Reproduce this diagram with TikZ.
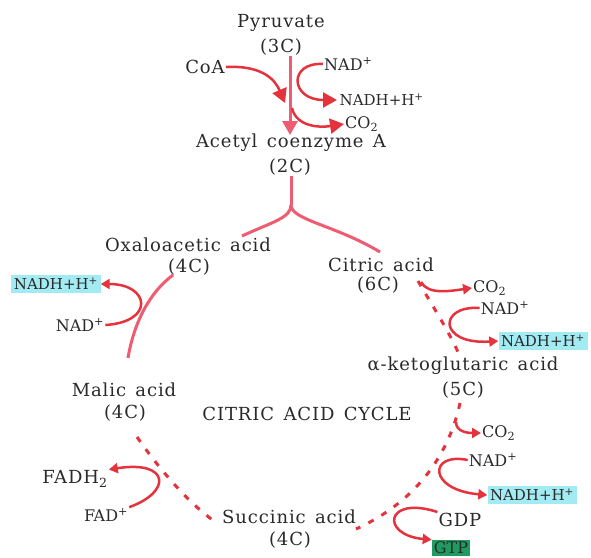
\documentclass[tikz,border=0pt]{standalone}
\usepackage{fontspec}
\setmainfont{DejaVu Serif}
\newfontfamily\namefont[LetterSpace=5,WordSpace=1.4]{DejaVu Serif}
\usepackage{tikz}
\usetikzlibrary{arrows.meta,positioning}

\definecolor{cyclepink}{HTML}{EE5C72}
\definecolor{sidered}{HTML}{E5333D}
\definecolor{nadhblue}{HTML}{A3EBF3}
\definecolor{gtpgreen}{HTML}{1F9A60}
\definecolor{txt}{HTML}{2A2A2A}

\tikzset{
  lbl/.style={font=\fontsize{16}{18}\selectfont, text=txt, inner sep=1pt},
  acid/.style={font=\namefont\fontsize{18}{20}\selectfont, text=txt, inner sep=1pt},
  nadh/.style={font=\fontsize{15}{17}\selectfont, text=txt, fill=nadhblue, inner sep=2.5pt},
  gtp/.style={lbl, fill=gtpgreen, inner sep=2pt},
  cycline/.style={draw=cyclepink, line width=3pt},
  bigtip/.style={-{Triangle[length=14pt,width=15pt]}},
  sidearrow/.style={draw=sidered, line width=2.5pt, -{Triangle[length=9pt,width=10pt]}},
  dashline/.style={draw=sidered, line width=3pt, dash pattern=on 6pt off 9pt}
}

\begin{document}
\begin{tikzpicture}[x=1pt,y=-1pt]
      \useasboundingbox (0,0) rectangle (591,557);

      % top: pyruvate to acetyl CoA
      \node[acid] (pyr) at (281,23) {Pyruvate};
      \node[acid] (pyrc) at (281,47) {(3C)};
      \node[acid] (coa) at (205,67) {CoA};
      \node[lbl,anchor=west] (nad1) at (323,64) {NAD\textsuperscript{+}};
      \node[nadh,fill=none,anchor=west] (nadh1) at (337,100) {NADH+H\textsuperscript{+}};
      \node[lbl,anchor=west] (co21) at (344,124) {CO\textsubscript{2}};
      \node[acid] (acet) at (291,143) {Acetyl coenzyme A};
      \node[acid] (acetc) at (290,167) {(2C)};

      \draw[cycline,bigtip] (pyrc.south -| 290,0) -- (290,135);
      \draw[sidearrow,bigtip] (coa.east) .. controls (265,65) and (276,82) .. (285,103);
      \draw[sidearrow,bigtip] (nad1.west) .. controls (288,62) and (290,100) .. (nadh1.west);
      \draw[sidearrow,bigtip] (292,108) .. controls (296,126) and (318,128) .. (co21.west);

      % the cycle
      \node[acid] (oxa) at (188,245) {Oxaloacetic acid};
      \node[acid] (oxac) at (189,267) {(4C)};
      \node[acid] (cit) at (381,265) {Citric acid};
      \node[acid] (citc) at (378,285) {(6C)};
      \node[acid] (akg) at (463,366) {α-ketoglutaric acid};
      \node[acid] (akgc) at (463,390) {(5C)};
      \node[acid] (suc) at (289,517) {Succinic acid};
      \node[acid] (succ) at (290,540) {(4C)};
      \node[acid] (mal) at (124,390) {Malic acid};
      \node[acid] (malc) at (125,413) {(4C)};
      \node[acid] (tca) at (307,414) {CITRIC ACID CYCLE};

      \coordinate (fork) at (291,205);
      \draw[cycline] (acetc.south -| fork) -- (fork);
      \draw[cycline] (fork) .. controls (291,218) and (272,222) .. (242,236);
      \draw[cycline] (fork) .. controls (291,220) and (335,225) .. (380,252);
      \draw[cycline] (128,358) .. controls (134,322) and (150,292) .. (173,275);
      \draw[dashline] (418,281) .. controls (432,305) and (448,330) .. (458,352);
      \draw[dashline] (460,403) .. controls (450,450) and (420,500) .. (356,529);
      \draw[dashline] (137,437) .. controls (160,470) and (190,505) .. (217,523);

      % side reactions
      \node[nadh] (nadhl) at (56,284) {NADH+H\textsuperscript{+}};
      \node[lbl] (nadl) at (80,325) {NAD\textsuperscript{+}};
      \draw[sidearrow] (nadl.east) .. controls (155,322) and (150,284) .. (nadhl.east);

      \node[lbl,anchor=west] (co22) at (472,288) {CO\textsubscript{2}};
      \node[lbl] (nad2) at (505,308) {NAD\textsuperscript{+}};
      \node[nadh] (nadh2) at (543,341) {NADH+H\textsuperscript{+}};
      \draw[sidearrow] (421,282) .. controls (428,295) and (450,291) .. (co22.west);
      \draw[sidearrow] (nad2.west) .. controls (438,305) and (438,345) .. (nadh2.west);

      \node[lbl,anchor=west] (co23) at (481,433) {CO\textsubscript{2}};
      \node[lbl] (nad3) at (493,460) {NAD\textsuperscript{+}};
      \node[nadh] (nadh3) at (532,495) {NADH+H\textsuperscript{+}};
      \node[acid] (gdp) at (460,520) {GDP};
      \node[gtp] (gtpn) at (451,548) {GTP};
      \draw[sidearrow] (456,422) .. controls (456,432) and (468,433) .. (co23.west);
      \draw[sidearrow] (nad3.west) .. controls (428,452) and (428,490) .. (nadh3.west);
      \draw[sidearrow] (gdp.north west) .. controls (385,495) and (380,535) .. (gtpn.north west);

      \node[acid] (fadh) at (75,479) {FADH\textsubscript{2}};
      \node[lbl] (fad) at (106,515) {FAD\textsuperscript{+}};
      \draw[sidearrow] (fad.north east) .. controls (172,492) and (170,460) .. (fadh.north east);
\end{tikzpicture}
\end{document}
